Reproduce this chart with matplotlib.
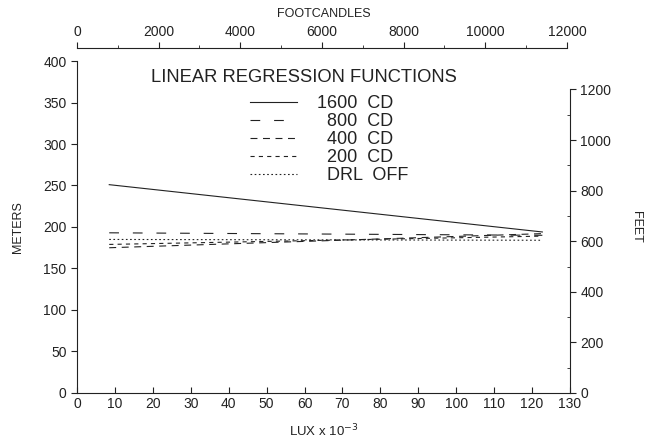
import matplotlib
matplotlib.use("Agg")
import matplotlib.pyplot as plt
import numpy as np

plt.rcParams['font.family'] = ['Liberation Sans', 'DejaVu Sans']
plt.rcParams['lines.scale_dashes'] = False

# Data (lux x 10^-3 endpoints of each regression line, meters)
series_names = ["1600  CD", "  800  CD", "  400  CD", "  200  CD", "  DRL  OFF"]
x_start = [8.5, 8.5, 8.5, 8.5, 8.5]
x_end = [122.7, 122.7, 122.7, 122.7, 122.7]
y_start = [251, 193, 175, 179, 185]
y_end = [194, 190, 192, 189, 184]
line_styles = ['-', (0, (7, 10)), (0, (5, 4)), (0, (3, 3)), (0, (1.2, 1.8))]

meters_ticks = [0, 50, 100, 150, 200, 250, 300, 350, 400]
feet_ticks = [0, 200, 400, 600, 800, 1000, 1200]
lux_ticks = list(range(0, 131, 10))
fc_ticks = [0, 2000, 4000, 6000, 8000, 10000, 12000]

M_TO_FT = 3.28084
FC_TO_KLUX = 10.764 / 1000.0

col = '#222222'
fig = plt.figure(figsize=(6.46, 4.44), dpi=100)
ax = fig.add_axes([0.1192, 0.1149, 0.7632, 0.7477])

for name, xs, xe, ys, ye, ls in zip(series_names, x_start, x_end, y_start, y_end, line_styles):
    ax.plot([xs, xe], [ys, ye], color=col, lw=0.8, linestyle=ls, label=name)

ax.set_xlim(0, 130)
ax.set_ylim(0, 400)
ax.set_xticks(lux_ticks)
ax.set_yticks(meters_ticks)
ax.spines['top'].set_visible(False)
ax.spines['right'].set_visible(False)
for s in ['left', 'bottom']:
    ax.spines[s].set_linewidth(0.8)
    ax.spines[s].set_color(col)
ax.tick_params(axis='y', direction='out', length=4, width=0.8, colors=col, labelsize=10)
ax.tick_params(axis='x', direction='in', length=4, width=0.8, colors=col, labelsize=10, pad=3)
ax.set_xlabel("LUX x 10$^{-3}$", fontsize=9.5, color=col, labelpad=8)
ax.set_ylabel("METERS", fontsize=9, color=col, labelpad=14)

# right axis: feet
axr = ax.twinx()
axr.set_ylim(0, 400 * M_TO_FT)
axr.set_yticks(feet_ticks)
axr.set_yticks(np.arange(0, 1201, 100), minor=True)
for s in ['left', 'top', 'bottom']:
    axr.spines[s].set_visible(False)
axr.spines['right'].set_bounds(0, 1200)
axr.spines['right'].set_linewidth(0.8)
axr.spines['right'].set_color(col)
axr.tick_params(axis='y', which='major', direction='out', length=4, width=0.8, colors=col, labelsize=10)
axr.tick_params(axis='y', which='minor', direction='in', length=2, width=0.6, colors=col)
axr.set_ylabel("FEET", fontsize=9, color=col, rotation=270, labelpad=22)

# top axis: footcandles
axt = ax.twiny()
axt.set_xlim(0, 130 / FC_TO_KLUX)
axt.set_xticks(fc_ticks)
axt.set_xticks(np.arange(0, 12001, 1000), minor=True)
for s in ['left', 'right', 'bottom']:
    axt.spines[s].set_visible(False)
axt.spines['top'].set_position(('outward', 9.5))
axt.spines['top'].set_bounds(0, 12000)
axt.spines['top'].set_linewidth(0.8)
axt.spines['top'].set_color(col)
axt.tick_params(axis='x', which='major', direction='out', length=4, width=0.8, colors=col, labelsize=10, pad=2)
axt.tick_params(axis='x', which='minor', direction='out', length=2, width=0.6, colors=col)
axt.set_xlabel("FOOTCANDLES", fontsize=9, color=col, labelpad=6)

fig.text(304 / 646, 1 - 77 / 444, "LINEAR REGRESSION FUNCTIONS", ha='center', va='center',
         fontsize=13.2, color=col)

leg = ax.legend(loc='upper left', bbox_to_anchor=(250 / 646, 1 - 95 / 444),
                bbox_transform=fig.transFigure, frameon=False, fontsize=13,
                handlelength=2.6, handletextpad=1.1, labelspacing=0.06,
                borderpad=0, borderaxespad=0)
for t in leg.get_texts():
    t.set_color(col)

fig.savefig("out.png", dpi=100)
